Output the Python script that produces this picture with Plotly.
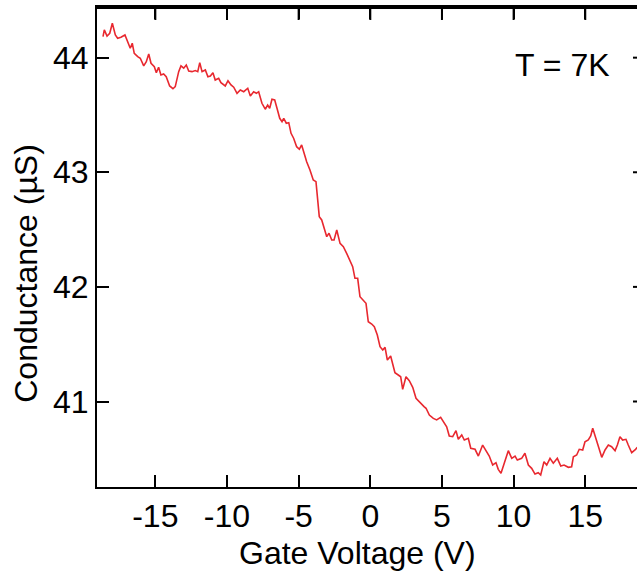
import plotly.graph_objects as go

# Gate voltage (V)
gate_voltage = [
    -18.65, -18.56, -18.37, -18.18, -18.00, -17.79, -17.63, -17.40, -17.12, -16.93,
    -16.75, -16.61, -16.47, -16.23, -16.05, -15.81, -15.63, -15.46, -15.30, -15.07,
    -14.93, -14.77, -14.61, -14.42, -14.24, -14.00, -13.77, -13.61, -13.37, -13.21,
    -13.02, -12.84, -12.67, -12.44, -12.21, -12.04, -11.90, -11.74, -11.51, -11.33,
    -11.16, -10.98, -10.82, -10.58, -10.42, -10.12, -9.93, -9.72, -9.53, -9.30,
    -9.07, -8.83, -8.55, -8.37, -8.14, -7.95, -7.79, -7.56, -7.33, -7.16,
    -7.02, -6.86, -6.67, -6.51, -6.32, -6.16, -6.04, -5.86, -5.69, -5.53,
    -5.35, -5.14, -4.95, -4.79, -4.63, -4.44, -4.21, -3.98, -3.79, -3.70,
    -3.56, -3.39, -3.23, -3.04, -2.88, -2.69, -2.53, -2.34, -2.11, -1.88,
    -1.65, -1.42, -1.23, -1.07, -0.88, -0.72, -0.49, -0.30, -0.14, 0.10,
    0.28, 0.49, 0.68, 0.87, 1.03, 1.19, 1.42, 1.56, 1.72, 1.95,
    2.12, 2.26, 2.49, 2.72, 2.96, 3.19, 3.42, 3.59, 3.75, 3.89,
    4.12, 4.40, 4.63, 4.91, 5.14, 5.33, 5.51, 5.75, 5.98, 6.14,
    6.38, 6.56, 6.84, 7.01, 7.31, 7.54, 7.84, 8.07, 8.30, 8.54,
    8.77, 8.93, 9.12, 9.33, 9.63, 9.87, 10.10, 10.26, 10.56, 10.79,
    11.03, 11.26, 11.49, 11.72, 11.89, 12.12, 12.31, 12.54, 12.77, 13.05,
    13.29, 13.52, 13.82, 14.05, 14.17, 14.40, 14.58, 14.82, 14.98, 15.21,
    15.38, 15.52, 15.68, 15.91, 16.15, 16.38, 16.61, 16.84, 17.08, 17.24,
    17.42, 17.61, 17.84, 18.00, 18.24, 18.47, 18.63,
]

# Conductance (µS)
conductance = [
    44.183, 44.242, 44.189, 44.213, 44.300, 44.198, 44.169, 44.178, 44.198, 44.140,
    44.082, 44.126, 44.038, 44.009, 43.995, 43.928, 43.965, 44.032, 43.951, 43.921,
    43.869, 43.916, 43.849, 43.858, 43.834, 43.753, 43.729, 43.747, 43.878, 43.928,
    43.908, 43.936, 43.884, 43.878, 43.887, 43.878, 43.956, 43.878, 43.893, 43.834,
    43.840, 43.869, 43.805, 43.820, 43.782, 43.753, 43.799, 43.762, 43.742, 43.689,
    43.718, 43.703, 43.733, 43.666, 43.703, 43.689, 43.703, 43.602, 43.550, 43.587,
    43.558, 43.637, 43.631, 43.558, 43.471, 43.442, 43.471, 43.428, 43.433, 43.340,
    43.297, 43.223, 43.201, 43.238, 43.166, 43.092, 43.020, 42.933, 42.918, 42.787,
    42.613, 42.584, 42.511, 42.438, 42.468, 42.409, 42.409, 42.496, 42.380, 42.351,
    42.293, 42.235, 42.176, 42.075, 42.075, 41.914, 41.886, 41.857, 41.696, 41.676,
    41.653, 41.580, 41.478, 41.449, 41.473, 41.362, 41.397, 41.333, 41.251, 41.231,
    41.216, 41.106, 41.216, 41.181, 41.124, 41.028, 40.998, 40.969, 40.955, 40.941,
    40.882, 40.853, 40.839, 40.862, 40.810, 40.780, 40.699, 40.693, 40.745, 40.670,
    40.708, 40.664, 40.679, 40.592, 40.583, 40.524, 40.620, 40.577, 40.524, 40.446,
    40.466, 40.408, 40.373, 40.455, 40.571, 40.504, 40.524, 40.489, 40.504, 40.548,
    40.446, 40.417, 40.367, 40.379, 40.359, 40.475, 40.446, 40.504, 40.461, 40.504,
    40.437, 40.446, 40.426, 40.431, 40.518, 40.533, 40.583, 40.577, 40.649, 40.664,
    40.699, 40.766, 40.699, 40.620, 40.513, 40.577, 40.620, 40.606, 40.571, 40.620,
    40.693, 40.664, 40.670, 40.620, 40.553, 40.577, 40.600,
]

x_ticks = [-15, -10, -5, 0, 5, 10, 15]
x_tick_labels = ["-15", "-10", "-5", "0", "5", "10", "15"]
y_ticks = [41, 42, 43, 44]
y_tick_labels = ["41", "42", "43", "44"]

x_title = "Gate Voltage (V)"
y_title = "Conductance (µS)"
note_text = "T = 7K"

FONT = "Liberation Sans, Arial, sans-serif"
FS = 32

fig = go.Figure()
fig.add_trace(go.Scatter(
    x=gate_voltage, y=conductance, mode="lines",
    line=dict(color="#e8282f", width=1.6),
    showlegend=False, hoverinfo="skip",
))

axis_common = dict(
    ticks="inside", ticklen=12, tickwidth=2, tickcolor="black",
    showline=True, linewidth=2, linecolor="black",
    showgrid=False, zeroline=False, automargin=False,
    tickfont=dict(family=FONT, size=FS, color="black"),
)

fig.update_layout(
    width=637, height=576,
    margin=dict(l=97, r=0, t=7, b=89, pad=0, autoexpand=False),
    paper_bgcolor="white", plot_bgcolor="white",
    font=dict(family=FONT, size=FS, color="black"),
    xaxis=dict(
        range=[-19.07, 18.61],
        tickmode="array", tickvals=x_ticks, ticktext=x_tick_labels,
        mirror="allticks", **axis_common,
    ),
    yaxis=dict(
        range=[40.254, 44.442],
        tickmode="array", tickvals=y_ticks, ticktext=y_tick_labels,
        mirror=False, **axis_common,
    ),
)

frame = dict(color="black", width=2)
# top frame line with inward ticks, drawn as shapes on top of everything
fig.add_shape(type="line", xref="paper", yref="paper", layer="above",
              x0=0, x1=1, y0=1 - 1 / 480, y1=1 - 1 / 480, line=frame)
for xv in x_ticks:
    fig.add_shape(type="line", xref="x", yref="paper", layer="above",
                  x0=xv, x1=xv, y0=1, y1=1 - 13 / 480, line=frame)
# short stubs of the right-axis ticks (the right axis lies just beyond the crop)
for yv in y_ticks:
    fig.add_shape(type="line", xref="paper", yref="y", layer="above",
                  x0=1 - 4 / 540, x1=1, y0=yv, y1=yv, line=frame)

fig.add_annotation(
    text=note_text, xref="paper", yref="paper",
    x=0.862, y=0.88, xanchor="center", yanchor="middle",
    showarrow=False, font=dict(family=FONT, size=FS, color="black"),
)
fig.add_annotation(
    text=x_title, xref="paper", yref="paper",
    x=0.4815, y=-0.1375, xanchor="center", yanchor="middle",
    showarrow=False, font=dict(family=FONT, size=FS, color="black"),
)
fig.add_annotation(
    text=y_title, xref="paper", yref="paper", textangle=-90,
    x=-0.132, y=0.4458, xanchor="center", yanchor="middle",
    showarrow=False, font=dict(family=FONT, size=FS, color="black"),
)

fig.write_html(
    "out.html", config={"displayModeBar": False},
    post_script=("document.body.style.margin='0';"
                 "document.documentElement.style.overflow='hidden';"
                 "window.scrollTo(0,0);"),
)
